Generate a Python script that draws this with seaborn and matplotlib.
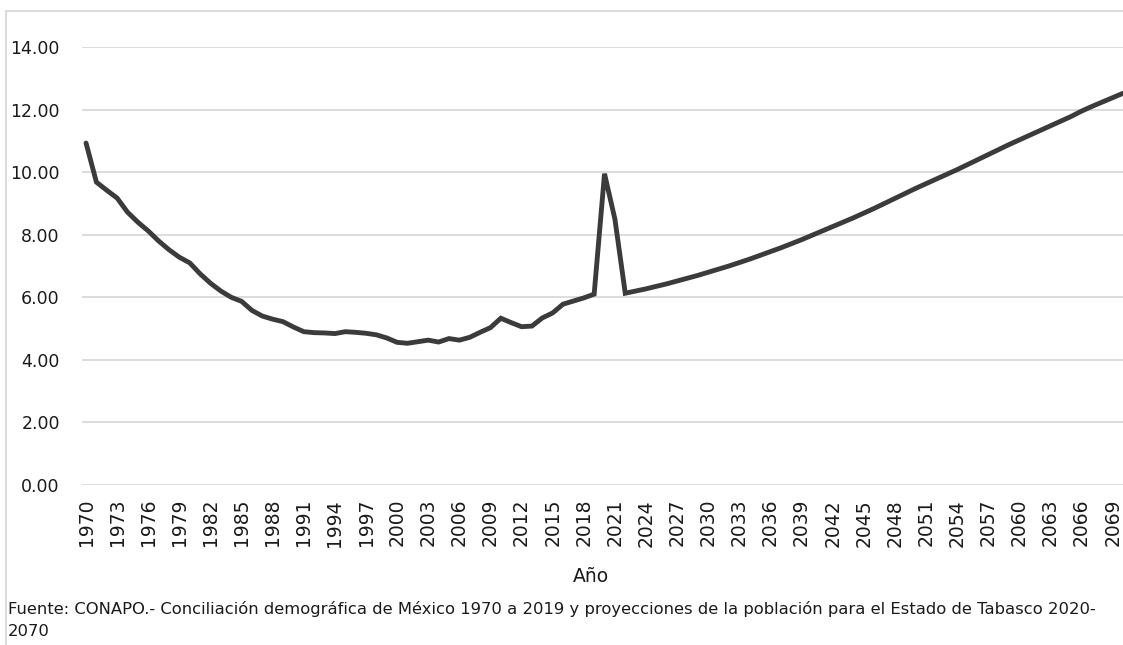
import numpy as np
import pandas as pd
import seaborn as sns
import matplotlib.pyplot as plt
from matplotlib.patches import Rectangle

# Tasa (por mil) 1970-2070
years = list(range(1970, 2071))
values = [
    10.93, 9.68, 9.42, 9.17, 8.72, 8.40, 8.12, 7.80, 7.52, 7.28,   # 1970-1979
    7.10, 6.75, 6.45, 6.20, 6.00, 5.87, 5.58, 5.40, 5.30, 5.22,    # 1980-1989
    5.05, 4.90, 4.87, 4.86, 4.84, 4.90, 4.88, 4.85, 4.80, 4.70,    # 1990-1999
    4.56, 4.53, 4.58, 4.63, 4.57, 4.68, 4.63, 4.72, 4.88, 5.03,    # 2000-2009
    5.33, 5.19, 5.06, 5.08, 5.34, 5.50, 5.78, 5.88, 5.98, 6.10,    # 2010-2019
    9.95, 8.50, 6.13, 6.20, 6.27, 6.35, 6.43, 6.52, 6.61, 6.70,    # 2020-2029
    6.80, 6.90, 7.00, 7.11, 7.22, 7.34, 7.46, 7.58, 7.71, 7.84,    # 2030-2039
    7.98, 8.12, 8.26, 8.40, 8.54, 8.69, 8.84, 9.00, 9.16, 9.32,    # 2040-2049
    9.48, 9.63, 9.78, 9.93, 10.08, 10.24, 10.40, 10.56, 10.72, 10.88,  # 2050-2059
    11.03, 11.18, 11.33, 11.48, 11.63, 11.78, 11.95, 12.10, 12.24, 12.38,  # 2060-2069
    12.52,  # 2070
]
tick_years = list(range(1970, 2070, 3))
y_ticks = [0, 2, 4, 6, 8, 10, 12, 14]

df = pd.DataFrame({"anio": years, "valor": values})

sns.set_theme(style="white")
plt.rcParams["font.family"] = ["DejaVu Sans"]

W, H = 1123, 645
fig = plt.figure(figsize=(W / 100, H / 100), dpi=100)
ax = fig.add_axes([82 / W, 1 - 485 / H, (W - 82) / W, (485 - 47) / H])

sns.lineplot(data=df, x="anio", y="valor", ax=ax, color="#3b3b3b",
             linewidth=3.5, solid_joinstyle="miter")

ax.set_xlim(1969.61, 2070)
ax.set_ylim(0, 14)
ax.set_yticks(y_ticks)
ax.set_yticklabels([f"{v:.2f}" for v in y_ticks], fontsize=12.5, color="#1a1a1a")
ax.set_xticks(tick_years)
ax.set_xticklabels([str(t) for t in tick_years], rotation=90, fontsize=13.5,
                   color="#1a1a1a")
ax.tick_params(axis="y", length=0, pad=16)
ax.tick_params(axis="x", length=0, pad=10)
ax.yaxis.grid(True, color="#d9d9d9", linewidth=1.3)
ax.xaxis.grid(False)
for s in ax.spines.values():
    s.set_visible(False)
ax.set_xlabel("")
ax.set_ylabel("")

fig.text(591 / W, 1 - 576 / H, "Año", ha="center", va="center", fontsize=13.5,
         color="#1a1a1a")
fig.text(8 / W, 1 - 609 / H,
         "Fuente: CONAPO.- Conciliación demográfica de México 1970 a 2019 y "
         "proyecciones de la población para el Estado de Tabasco 2020-",
         ha="left", va="center", fontsize=11.8, color="#1a1a1a")
fig.text(8 / W, 1 - 631 / H, "2070", ha="left", va="center", fontsize=11.8,
         color="#1a1a1a")

# marco gris claro del grafico (cortado a la derecha y abajo)
fig.patches.append(Rectangle((6 / W, -0.1), 1.2, 1 - 11 / H + 0.1,
                             transform=fig.transFigure, fill=False,
                             edgecolor="#d9d9d9", linewidth=1.3))

fig.savefig("out.png", dpi=100)
